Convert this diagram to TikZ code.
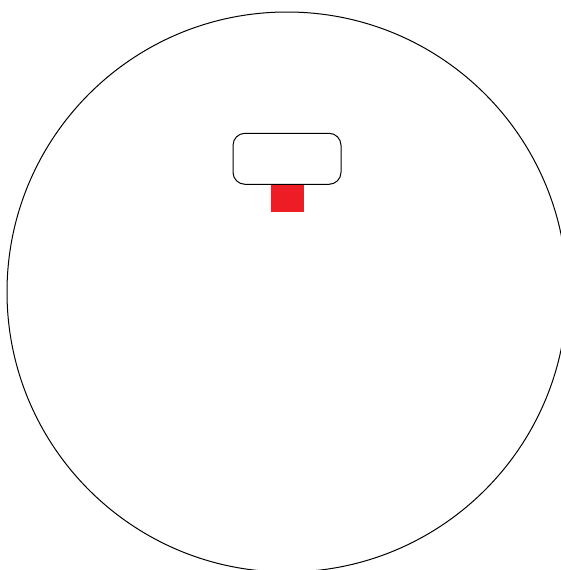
\documentclass[tikz,border=0pt]{standalone}
\usetikzlibrary{positioning}
\definecolor{stopred}{HTML}{EE1C25}
\tikzset{frame/.style={draw=black, line width=1pt}, panel/.style={draw=black, line width=1pt, fill=white, rounded corners=12pt, minimum width=108pt, minimum height=51pt, inner sep=0pt}, tab/.style={fill=stopred, minimum width=33pt, minimum height=27.4pt, inner sep=0pt}}
\begin{document}
\begin{tikzpicture}[x=1pt,y=-1pt]
\useasboundingbox (0,0) rectangle (561,570);
\clip (0,0) rectangle (561,570);
\draw[frame] (287,292) circle[radius=280];
\node[panel] (pnl) at (287,158.8) {};
\node[tab, below=0pt of pnl] (tab) {};
\end{tikzpicture}
\end{document}
